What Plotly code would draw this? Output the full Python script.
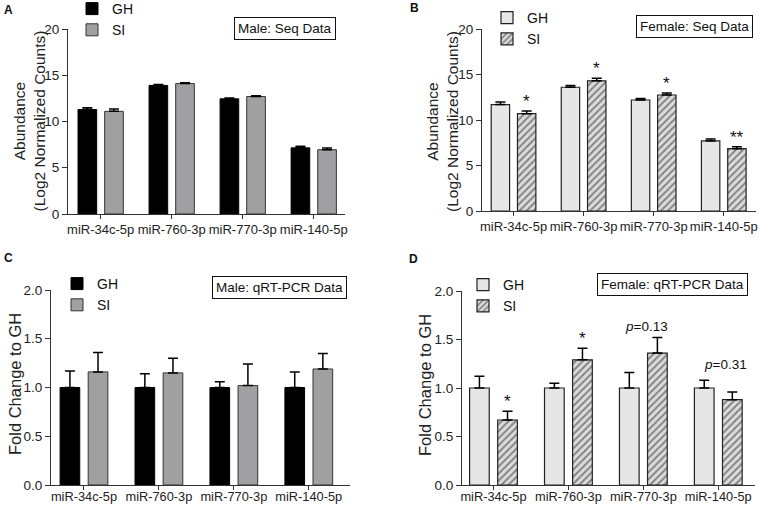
import plotly.graph_objects as go

categories = ["miR-34c-5p", "miR-760-3p", "miR-770-3p", "miR-140-5p"]

# Panel A: Male seq
a_gh = [11.3, 13.9, 12.45, 7.15]
a_gh_err = [0.2, 0.1, 0.08, 0.18]
a_si = [11.1, 14.1, 12.7, 6.95]
a_si_err = [0.25, 0.08, 0.08, 0.18]

# Panel B: Female seq
b_gh = [11.7, 13.6, 12.2, 7.7]
b_gh_err = [0.28, 0.2, 0.15, 0.2]
b_si = [10.7, 14.3, 12.75, 6.85]
b_si_err = [0.3, 0.3, 0.22, 0.2]
b_sig = ["*", "*", "*", "**"]

# Panel C: Male qRT-PCR
c_gh = [1.0, 1.0, 1.0, 1.0]
c_gh_err = [0.17, 0.14, 0.06, 0.16]
c_si = [1.16, 1.15, 1.02, 1.19]
c_si_err = [0.2, 0.15, 0.22, 0.16]

# Panel D: Female qRT-PCR
d_gh = [1.0, 1.0, 1.0, 1.0]
d_gh_err = [0.12, 0.05, 0.16, 0.08]
d_si = [0.67, 1.29, 1.36, 0.88]
d_si_err = [0.09, 0.12, 0.16, 0.08]
d_sig = ["*", "*", "<i>p</i>=0.13", "<i>p</i>=0.31"]

FONT = "Liberation Sans, Arial, sans-serif"
AX = "#333333"

BARGAP = 0.25
SI_OFF = (1 - BARGAP) / 4

fig = go.Figure()

def err(arr):
    return dict(type="data", symmetric=False, array=arr, arrayminus=[0] * len(arr),
                color="black", thickness=1.5, width=5)

def add_pair(xa, ya, leg, gh, ghe, si, sie, female):
    if female:
        gh_marker = dict(color="#e6e6e6", line=dict(color="#222222", width=1.2))
        si_marker = dict(color="#dcdcdc", line=dict(color="#222222", width=1.2),
                         pattern=dict(shape="/", fgcolor="#2a2a2a", bgcolor="#dcdcdc",
                                      size=5, solidity=0.4))
    else:
        gh_marker = dict(color="#000000", line=dict(color="#000000", width=1))
        si_marker = dict(color="#a0a0a2", line=dict(color="#333333", width=1))
    fig.add_trace(go.Bar(x=categories, y=gh, name="GH", marker=gh_marker,
                         error_y=err(ghe), xaxis=xa, yaxis=ya, legend=leg))
    fig.add_trace(go.Bar(x=categories, y=si, name="SI", marker=si_marker,
                         error_y=err(sie), xaxis=xa, yaxis=ya, legend=leg))

add_pair("x", "y", "legend", a_gh, a_gh_err, a_si, a_si_err, False)
add_pair("x2", "y2", "legend2", b_gh, b_gh_err, b_si, b_si_err, True)
add_pair("x3", "y3", "legend3", c_gh, c_gh_err, c_si, c_si_err, False)
add_pair("x4", "y4", "legend4", d_gh, d_gh_err, d_si, d_si_err, True)

W, H = 758, 506

def px(x):
    return x / W

def py(y):
    return 1 - y / H

def xd(a, b):
    return [a / W, b / W]

def yd(top, bottom):
    return [1 - bottom / H, 1 - top / H]

def xaxis(dom, rng, anchor, standoff=0, size=13):
    return dict(domain=dom, range=rng, anchor=anchor, showline=True, linecolor=AX,
                linewidth=1, ticks="outside", ticklen=4, tickcolor=AX, showgrid=False,
                zeroline=False, tickangle=0, ticklabelstandoff=standoff,
                tickfont=dict(size=size, color="#222", family=FONT),
                automargin=False, fixedrange=True)

def yaxis(dom, rng, dtick, fmt, anchor):
    return dict(domain=dom, range=rng, anchor=anchor, dtick=dtick, tickformat=fmt,
                showline=True, linecolor=AX, linewidth=1, ticks="outside", ticklen=5,
                tickcolor=AX, showgrid=False, zeroline=False, automargin=False,
                tickfont=dict(size=13.5, color="#222", family=FONT), fixedrange=True)

layout = dict(
    width=W, height=H, margin=dict(l=0, r=0, t=0, b=0, autoexpand=False),
    paper_bgcolor="white", plot_bgcolor="white",
    barmode="group", bargap=BARGAP, bargroupgap=0.3,
    font=dict(family=FONT, color="#222"),
    xaxis=xaxis(xd(68, 345), [-0.46, 3.44], "y", -1),
    yaxis=yaxis(yd(29, 214), [0, 20], 5, "d", "x"),
    xaxis2=xaxis(xd(482, 756), [-0.45, 3.46], "y2", -1),
    yaxis2=yaxis(yd(29, 211), [0, 20], 5, "d", "x2"),
    xaxis3=xaxis(xd(51, 350), [-0.44, 3.55], "y3", -4, 12.8),
    yaxis3=yaxis(yd(290, 485), [0, 2], 0.5, ".1f", "x3"),
    xaxis4=xaxis(xd(462, 755), [-0.42, 3.49], "y4", -4, 12.8),
    yaxis4=yaxis(yd(291, 485), [0, 2], 0.5, ".1f", "x4"),
)

def leg(x, y):
    return dict(x=px(x), y=py(y), xanchor="left", yanchor="top",
                bgcolor="rgba(0,0,0,0)", font=dict(size=14, family=FONT, color="#111"),
                tracegroupgap=0, itemwidth=30)

layout["legend"] = leg(72, -7)
layout["legend2"] = leg(487, 2)
layout["legend3"] = leg(57, 268)
layout["legend4"] = leg(463, 269)

fig.update_layout(**layout)

anns = []
# panel letters
for txt, x, y in [("A", 2, 9.5), ("B", 408, 8), ("C", 2, 258), ("D", 407, 258.5)]:
    anns.append(dict(text="<b>%s</b>" % txt, x=px(x), y=py(y), xref="paper", yref="paper",
                     showarrow=False, font=dict(size=12, family=FONT, color="#111"),
                     xanchor="left", yanchor="middle"))

# y-axis titles
for txt, x, y, size in [("Abundance<br>(Log2 Normalized Counts)", 29.5, 121, 15.5),
                        ("Abundance<br>(Log2 Normalized Counts)", 443, 122, 15.5),
                        ("Fold Change to GH", 15, 384, 16.5),
                        ("Fold Change to GH", 425, 385, 16.5)]:
    anns.append(dict(text=txt, x=px(x), y=py(y), xref="paper", yref="paper",
                     showarrow=False, textangle=-90, xanchor="center", yanchor="middle",
                     font=dict(size=size, family=FONT, color="#222")))

# boxed panel labels
for txt, x0, y0 in [("Male: Seq Data", 284.5, 28), ("Female: Seq Data", 694.5, 26.5),
                    ("Male: qRT-PCR Data", 279, 287.5), ("Female: qRT-PCR Data", 672, 284)]:
    anns.append(dict(text=txt, x=px(x0), y=py(y0), xref="paper", yref="paper",
                     showarrow=False, font=dict(size=13.5, family=FONT, color="#111"),
                     bordercolor="#111", borderwidth=1, borderpad=3,
                     xanchor="center", yanchor="middle"))

# significance marks
for i, s in enumerate(b_sig):
    anns.append(dict(text=s, x=i + SI_OFF, y=b_si[i] + b_si_err[i], xref="x2", yref="y2",
                     showarrow=False, yanchor="bottom", yshift=-2,
                     font=dict(size=17, family=FONT, color="#111")))
p_shift = {2: (-0.15, 11.5), 3: (-0.09, 27)}
for i, s in enumerate(d_sig):
    if s.startswith("*"):
        anns.append(dict(text=s, x=i + SI_OFF, y=d_si[i] + d_si_err[i],
                         xref="x4", yref="y4", showarrow=False, yanchor="bottom", yshift=-2,
                         font=dict(size=17, family=FONT, color="#111")))
    else:
        dx, dy = p_shift[i]
        anns.append(dict(text=s, x=i + SI_OFF + dx, y=d_si[i] + d_si_err[i],
                         xref="x4", yref="y4", showarrow=False, yanchor="middle", yshift=dy,
                         font=dict(size=13.5, family=FONT, color="#111")))

fig.update_layout(annotations=anns)
fig.write_html("out.html", config={"displayModeBar": False},
               post_script="document.body.style.margin='0';")
